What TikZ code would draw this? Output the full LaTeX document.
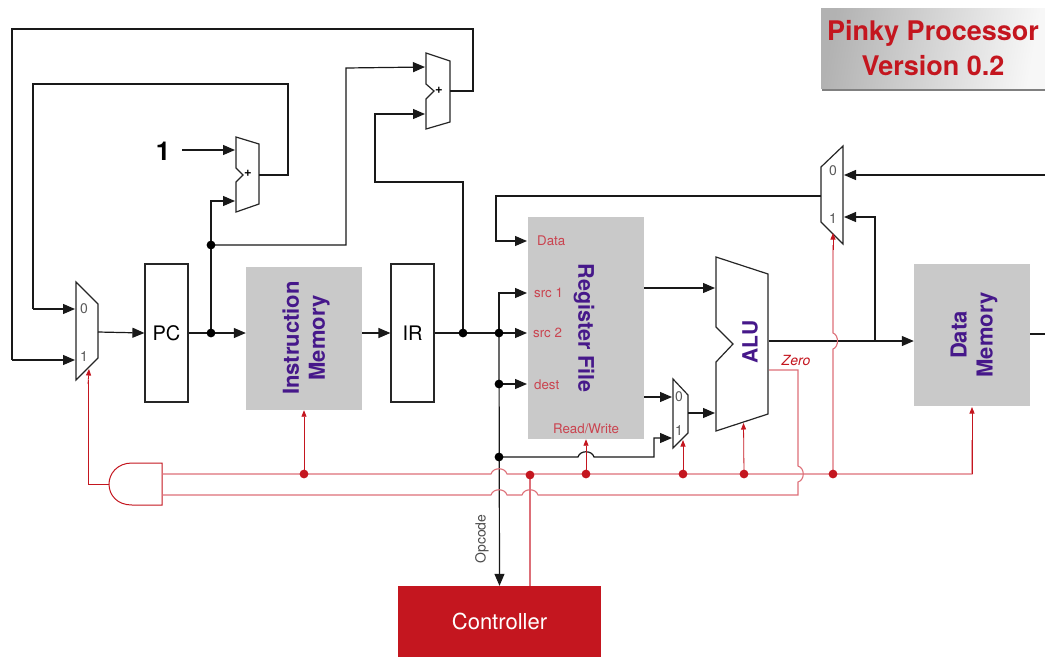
\documentclass[tikz,border=0pt]{standalone}
\usepackage{fontspec}
\setmainfont{TeX Gyre Heros}
\usetikzlibrary{arrows.meta}
\definecolor{cred}{HTML}{C4161F}
\definecolor{bus}{HTML}{DD6F78}
\definecolor{pinred}{HTML}{C9434F}
\definecolor{purp}{HTML}{46188A}
\definecolor{gbox}{HTML}{C9C9C9}
\newcommand\fs[1]{\fontsize{#1}{#1}\selectfont}
\newcommand\hbmp[2]{-- (#1-8,#2) .. controls (#1-6,#2-7) and (#1+6,#2-7) .. (#1+8,#2)}
\newcommand\vbmp[2]{-- (#1,#2+8) .. controls (#1+7,#2+6) and (#1+7,#2-6) .. (#1,#2-8)}
\tikzset{
  x=1pt,y=-1pt,
  wire/.style={draw=black!90,line width=1.2pt,line join=miter},
  awire/.style={wire,-{Triangle[length=12pt,width=10pt]}},
  rwire/.style={draw=bus,line width=1.1pt},
  rawire/.style={draw=cred,line width=0.8pt,-{Triangle[length=6.5pt,width=5pt]}},
  shapeline/.style={draw=black!85,line width=1.2pt,fill=white,line join=miter},
  regbox/.style={shapeline,inner sep=0pt,text=black,font=\fs{20}},
  graybox/.style={fill=gbox,draw=none,inner sep=0pt},
  blocktext/.style={text=purp,font=\fs{22}\bfseries,align=center,inner sep=0pt},
  pin/.style={text=pinred,font=\fs{13.3},inner sep=0pt},
  muxpin/.style={text=black!65,font=\fs{14},inner sep=0pt},
}
\begin{document}
\begin{tikzpicture}
\useasboundingbox (0,0) rectangle (1045,657);
% title
\fill[black!50] (822,12) rectangle (1045,91);
\shade[left color=black!30,right color=black!3,shading angle=80] (821,8) rectangle (1045,88);
\node[text=cred,font=\fs{27}\bfseries,inner sep=0pt] (title1) at (933,33) {Pinky Processor};
\node[text=cred,font=\fs{27}\bfseries,inner sep=0pt] (title2) at (933,66) {Version 0.2};
% blocks
\node[regbox,minimum width=43pt,minimum height=138pt] (pc) at (166.5,333) {PC};
\node[regbox,minimum width=43pt,minimum height=138pt] (ir) at (412.5,333) {IR};
\node[graybox,minimum width=116pt,minimum height=143pt] (im) at (304,338.5) {};
\node[graybox,minimum width=116pt,minimum height=222pt] (rf) at (586,328) {};
\node[graybox,minimum width=116pt,minimum height=142pt] (dm) at (972,335) {};
\node[blocktext,rotate=90] (imt) at (306,338) {Instruction\\[4pt]Memory};
\node[blocktext,font=\fs{21.5}\bfseries,rotate=-90] (rft) at (584,328) {Register File};
\node[blocktext,rotate=90] (dmt) at (974,335) {Data\\[4pt]Memory};
\node[fill=cred,text=white,font=\fs{22},inner sep=0pt,minimum width=203pt,minimum height=71pt] (ctrl) at (499.5,621.5) {\raisebox{-4pt}{Controller}};
% muxes, adders, ALU
\draw[shapeline] (76,282) -- (98,304) -- (98,358) -- (76,380) -- cycle;
\draw[shapeline] (673,379) -- (688,395) -- (688,433) -- (673,448) -- cycle;
\draw[shapeline] (821,167) -- (843,146) -- (843,244) -- (821,222) -- cycle;
\draw[shapeline] (236,137) -- (259,144) -- (259,204) -- (236,212) -- (236,182) -- (243,175) -- (236,168) -- cycle;
\draw[shapeline] (426,53) -- (450,61) -- (450,122) -- (426,129) -- (426,99) -- (434,91) -- (426,84) -- cycle;
\draw[shapeline] (716,257) -- (768,274) -- (768,414) -- (716,431) -- (716,362) -- (733,344) -- (716,327) -- cycle;
\draw[draw=cred,line width=1pt,fill=white] (162,463) -- (132,463) .. controls (117,463) and (109,474) .. (109,484) .. controls (109,495) and (117,505) .. (132,505) -- (162,505) -- cycle;
% mux pin labels and texts
\node[muxpin] (m10) at (84,309) {0};
\node[muxpin] (m11) at (84,357) {1};
\node[muxpin] (m20) at (679,397) {0};
\node[muxpin] (m21) at (679,431) {1};
\node[muxpin] (m30) at (833,171) {0};
\node[muxpin] (m31) at (833,219) {1};
\node[font=\fs{13}\bfseries,inner sep=0pt] (p1) at (248,173) {+};
\node[font=\fs{13}\bfseries,inner sep=0pt] (p2) at (439,90) {+};
\node[blocktext,font=\fs{21}\bfseries,rotate=90] (alut) at (750,342) {ALU};
\node[font=\fs{26}\bfseries,inner sep=0pt] (one) at (163,151) {1};
\node[pin,anchor=west] (pd) at (537,241) {Data};
\node[pin,anchor=west] (ps1) at (534,293) {src 1};
\node[pin,anchor=west] (ps2) at (533,333) {src 2};
\node[pin,anchor=west] (pdst) at (534,385) {dest};
\node[pin] (prw) at (586,429) {Read/Write};
\node[text=cred,font=\fs{14}\itshape,inner sep=0pt] (zero) at (796,360) {Zero};
\node[rotate=90,font=\fs{14},text=black!70,inner sep=0pt] (opc) at (482,539) {Opcode};
% coordinates
\coordinate (jpc) at (211,333);
\coordinate (jpc2) at (211,245);
\coordinate (jir) at (463,333);
\coordinate (jsrc) at (499,333);
\coordinate (jdst) at (499,384);
\coordinate (jimm) at (499,457);
\coordinate (a1in0) at (235,150);
\coordinate (a1in1) at (235,201);
\coordinate (a2in0) at (425,67);
\coordinate (a2in1) at (425,114);
\coordinate (m1in0) at (75,309);
\coordinate (m1in1) at (75,360);
\coordinate (m1out) at (98,332);
\coordinate (m3in0) at (844,175);
\coordinate (m3in1) at (844,217);
\coordinate (right1) at (1045,175);
\coordinate (right2) at (1045,334);
\coordinate (jalu) at (875,341);
% black connectors
\draw[awire] (one.east) ++(12,-1) -- (a1in0);
\draw[wire] (259,175) -- (288,175) -- (288,84) -- (33,84) -- (33,309);
\draw[wire] (450,91) -- (473,91) -- (473,29) -- (12,29) -- (12,360);
\draw[awire] (33,309) -- (m1in0);
\draw[awire] (12,360) -- (m1in1);
\draw[awire] (m1out) -- (pc.west);
\draw[wire] (pc.east) -- (jpc);
\draw[awire] (jpc) -- (im.west |- jpc);
\draw[wire] (jpc) -- (jpc2);
\draw[awire] (jpc2) -- (211,201) -- (a1in1);
\draw[awire] (jpc2) -- (346,245) -- (346,68) -- (a2in0);
\draw[awire] (im.east |- jpc) -- (ir.west);
\draw[wire] (ir.east) -- (jir);
\draw[awire] (jir) -- (463,182) -- (375,182) -- (375,114) -- (a2in1);
\draw[wire] (jir) -- (jsrc);
\draw[awire] (jsrc) -- (527,333);
\draw[awire] (jsrc) -- (499,293) -- (527,293);
\draw[awire] (jdst) -- (527,384);
\draw[awire] (jsrc) -- (ctrl.north);
\draw[awire] (jimm) -- (578,457) .. controls (580,450) and (592,450) .. (594,457) -- (654,457) -- (654,438) -- (672,438);
\draw[awire] (821,196) -- (496,196) -- (496,241) -- (527,241);
\draw[awire] (rf.east |- 0,288) -- (715,288);
\draw[awire] (rf.east |- 0,397) -- (672,397);
\draw[awire] (688,413) -- (715,413);
\draw[awire] (769,341) -- (dm.west |- jalu);
\draw[awire] (jalu) -- (875,217) -- (m3in1);
\draw[awire] (right1) -- (m3in0);
\draw[wire] (dm.east |- right2) -- (right2);
\fill (jpc) circle (4.4) (jpc2) circle (4.4) (jir) circle (4.4) (jsrc) circle (4.4) (jdst) circle (4.4) (jimm) circle (4.4);
% red connectors
\coordinate (rim) at (304,474);
\coordinate (rctrl) at (530,475);
\coordinate (rrf) at (586,474);
\coordinate (rm2) at (683,474);
\coordinate (ralu) at (744,474);
\coordinate (rm3) at (833,474);
\draw[rwire] (162,474) \hbmp{499}{474} -- (972,474) -- (972,440);
\draw[rwire] (162,495) \hbmp{499}{495} \hbmp{530}{495} -- (798,495) \vbmp{798}{474} -- (798,370) -- (769,370);
\draw[rawire] (972,474) -- (972,407);
\draw[rawire] (rim) -- (im.south);
\draw[rawire] (rrf) -- (rf.south);
\draw[rawire] (rm2) -- (683,440);
\draw[rawire] (ralu) -- (743.5,423);
\draw[rwire] (rm3) -- (833,349) .. controls (839,347) and (839,335) .. (833,333) -- (833,245);
\draw[rawire] (833,250) -- (833,233);
\draw[rwire] (rctrl) -- (530,586);
\draw[draw=cred,line width=0.8pt] (109,484) -- (88,484) -- (88,380);
\draw[rawire] (88,384) -- (89,369);
\foreach \c in {rim,rctrl,rrf,rm2,ralu,rm3} \fill[cred] (\c) circle (4.4);
\end{tikzpicture}
\end{document}
